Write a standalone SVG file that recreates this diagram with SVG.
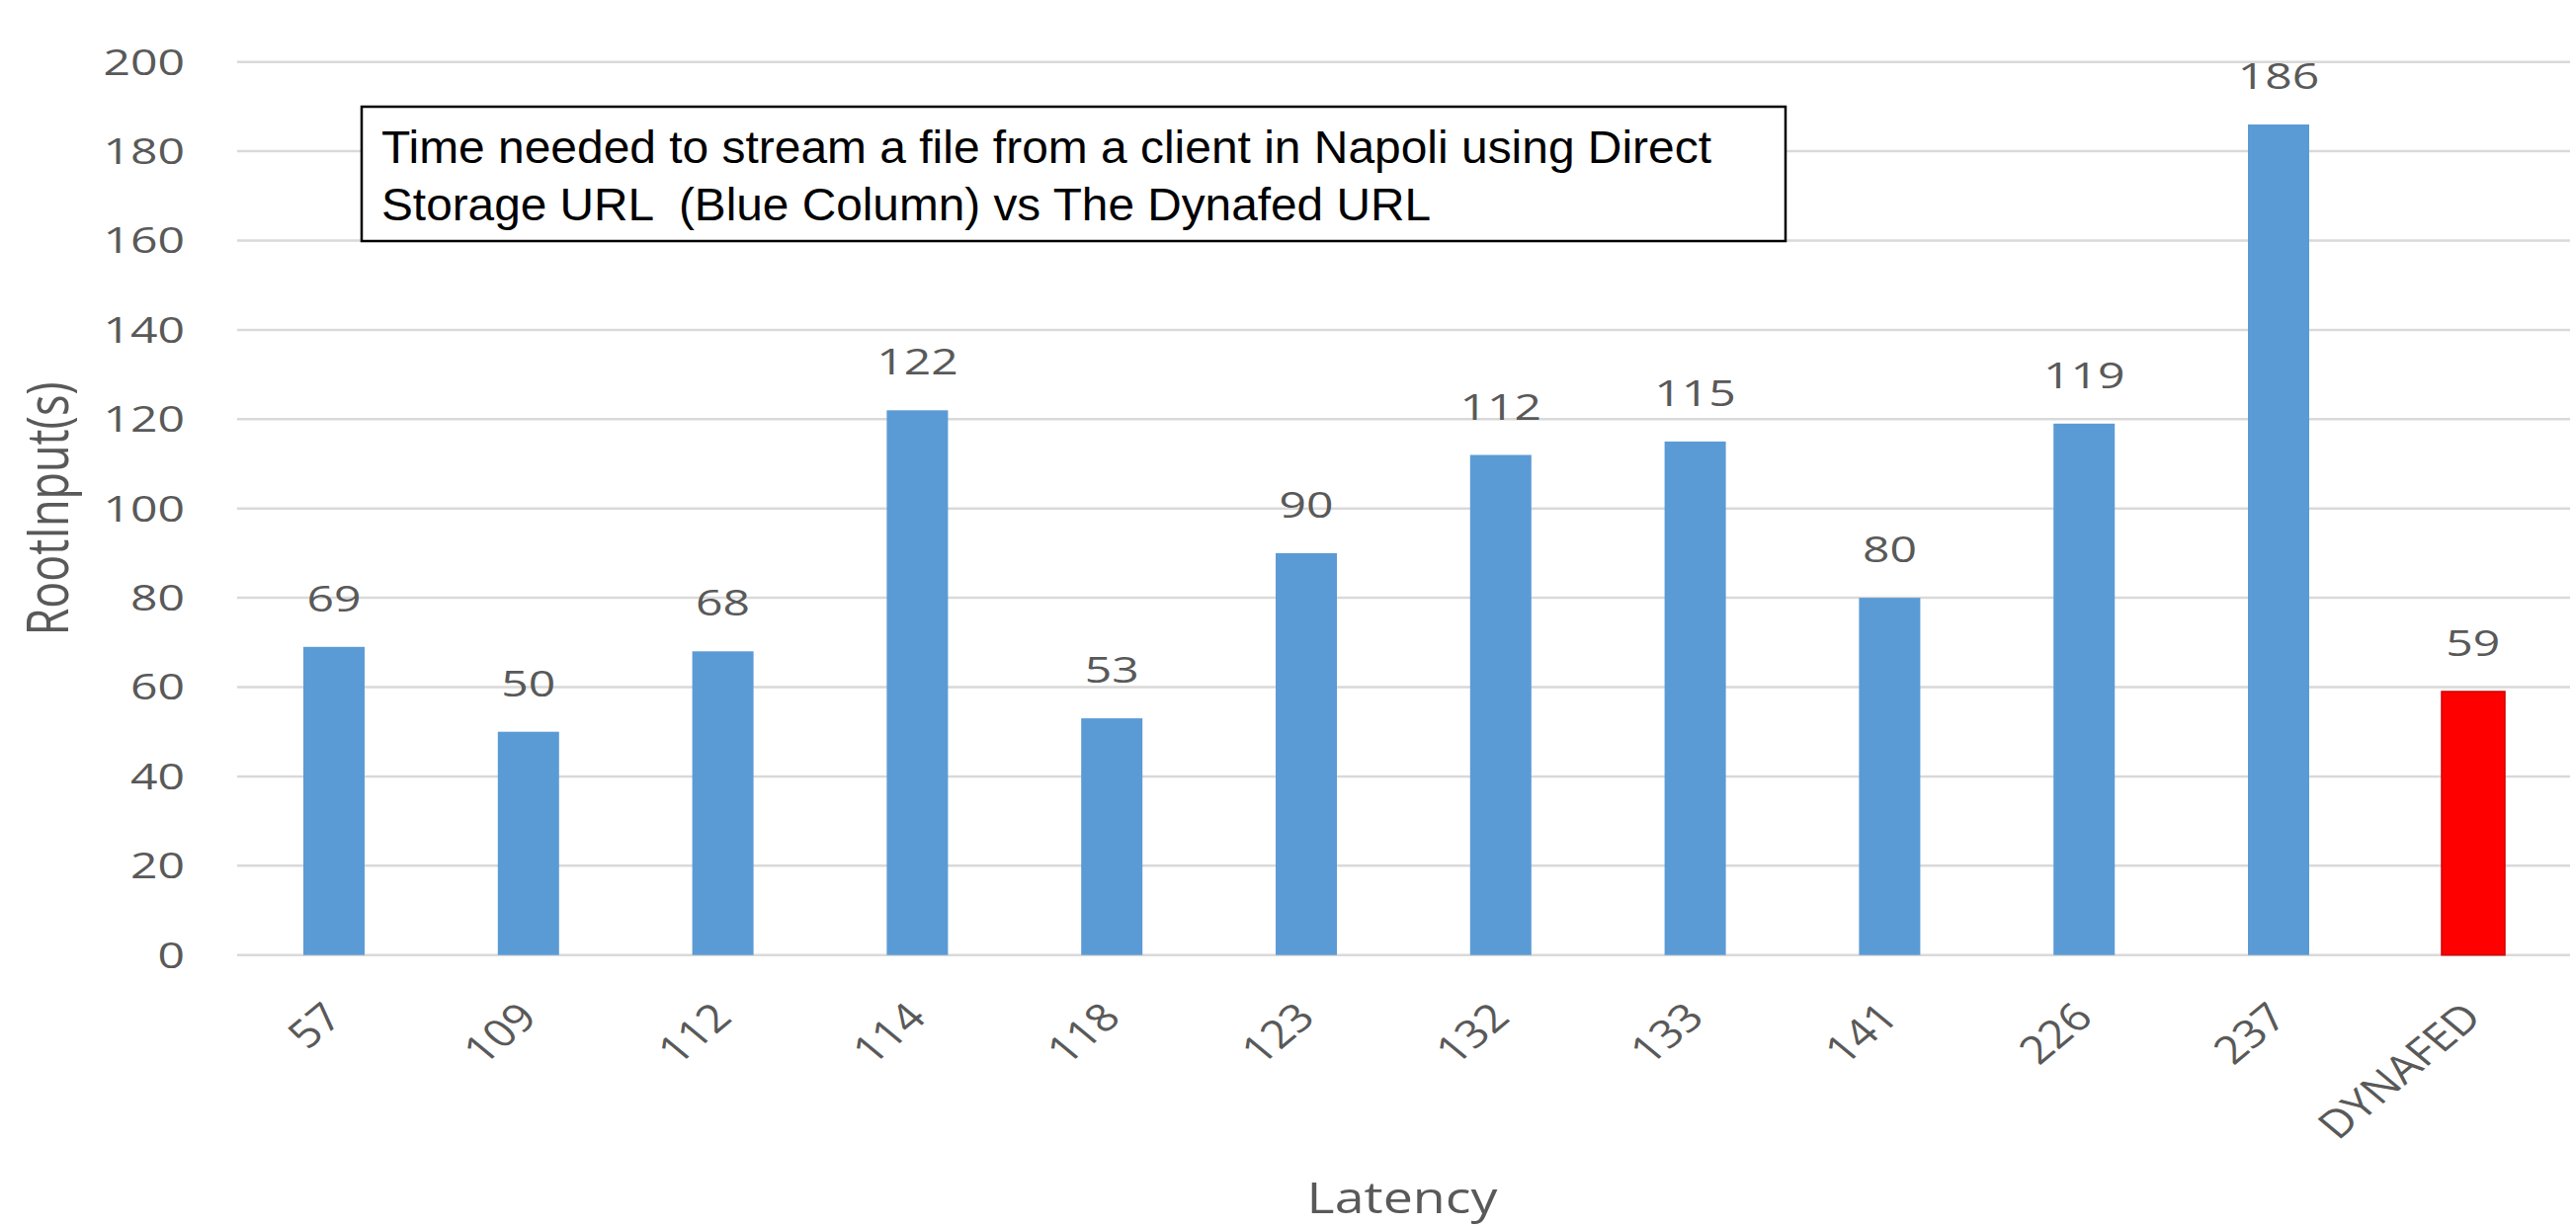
<svg xmlns="http://www.w3.org/2000/svg" width="2607" height="1242" viewBox="0 0 2607 1242">
<style>
.grid{stroke:#d9d9d9;stroke-width:2.5;fill:none}
.t{font-family:"Open Sans","Noto Sans","Liberation Sans",sans-serif;font-size:37px;fill:#595959}
.xl{font-size:39px}
.bar{fill:#5b9bd5}
.red{fill:#ff0000;stroke:#d00000;stroke-width:1.5}
.box{fill:#ffffff;stroke:#000000;stroke-width:2.5}
.note{font-family:"Liberation Sans",Arial,sans-serif;font-size:47px;fill:#000000}
</style>
<rect width="2607" height="1242" fill="#ffffff"/>
<g id="gridlines">
<line class="grid" x1="240" y1="966.7" x2="2601" y2="966.7"/>
<line class="grid" x1="240" y1="876.3" x2="2601" y2="876.3"/>
<line class="grid" x1="240" y1="785.9" x2="2601" y2="785.9"/>
<line class="grid" x1="240" y1="695.5" x2="2601" y2="695.5"/>
<line class="grid" x1="240" y1="605.1" x2="2601" y2="605.1"/>
<line class="grid" x1="240" y1="514.7" x2="2601" y2="514.7"/>
<line class="grid" x1="240" y1="424.3" x2="2601" y2="424.3"/>
<line class="grid" x1="240" y1="333.9" x2="2601" y2="333.9"/>
<line class="grid" x1="240" y1="243.5" x2="2601" y2="243.5"/>
<line class="grid" x1="240" y1="153.1" x2="2601" y2="153.1"/>
<line class="grid" x1="240" y1="62.7" x2="2601" y2="62.7"/>
</g>
<g id="y-ticks" class="t" text-anchor="end">
<text transform="translate(187,980) scale(1.3,1)">0</text>
<text transform="translate(187,889) scale(1.3,1)">20</text>
<text transform="translate(187,799) scale(1.3,1)">40</text>
<text transform="translate(187,708) scale(1.3,1)">60</text>
<text transform="translate(187,618) scale(1.3,1)">80</text>
<text transform="translate(187,528) scale(1.3,1)">100</text>
<text transform="translate(187,437) scale(1.3,1)">120</text>
<text transform="translate(187,347) scale(1.3,1)">140</text>
<text transform="translate(187,256) scale(1.3,1)">160</text>
<text transform="translate(187,166) scale(1.3,1)">180</text>
<text transform="translate(187,76) scale(1.3,1)">200</text>
</g>
<g id="y-title"><text class="t" style="font-size:45px" text-anchor="middle" transform="translate(69,515) scale(1.28,1) rotate(-90)">RootInput(s)</text></g>
<g id="bar-57"><rect class="bar" x="307" y="654.8" width="62" height="311.9"/><text class="t" text-anchor="middle" transform="translate(338,618.8) scale(1.3,1)">69</text></g>
<g id="bar-109"><rect class="bar" x="503.8" y="740.7" width="62" height="226"/><text class="t" text-anchor="middle" transform="translate(534.8,704.7) scale(1.3,1)">50</text></g>
<g id="bar-112"><rect class="bar" x="700.6" y="659.3" width="62" height="307.4"/><text class="t" text-anchor="middle" transform="translate(731.6,623.3) scale(1.3,1)">68</text></g>
<g id="bar-114"><rect class="bar" x="897.4" y="415.3" width="62" height="551.4"/><text class="t" text-anchor="middle" transform="translate(928.4,379.3) scale(1.3,1)">122</text></g>
<g id="bar-118"><rect class="bar" x="1094.2" y="727.1" width="62" height="239.6"/><text class="t" text-anchor="middle" transform="translate(1125.2,691.1) scale(1.3,1)">53</text></g>
<g id="bar-123"><rect class="bar" x="1291" y="559.9" width="62" height="406.8"/><text class="t" text-anchor="middle" transform="translate(1322,523.9) scale(1.3,1)">90</text></g>
<g id="bar-132"><rect class="bar" x="1487.8" y="460.5" width="62" height="506.2"/><text class="t" text-anchor="middle" transform="translate(1518.8,424.5) scale(1.3,1)">112</text></g>
<g id="bar-133"><rect class="bar" x="1684.6" y="446.9" width="62" height="519.8"/><text class="t" text-anchor="middle" transform="translate(1715.6,410.9) scale(1.3,1)">115</text></g>
<g id="bar-141"><rect class="bar" x="1881.4" y="605.1" width="62" height="361.6"/><text class="t" text-anchor="middle" transform="translate(1912.4,569.1) scale(1.3,1)">80</text></g>
<g id="bar-226"><rect class="bar" x="2078.2" y="428.8" width="62" height="537.9"/><text class="t" text-anchor="middle" transform="translate(2109.2,392.8) scale(1.3,1)">119</text></g>
<g id="bar-237"><rect class="bar" x="2275" y="126" width="62" height="840.7"/><text class="t" text-anchor="middle" transform="translate(2306,90) scale(1.3,1)">186</text></g>
<g id="bar-dynafed"><rect class="red" x="2471" y="700" width="64" height="266.7"/><text class="t" text-anchor="middle" transform="translate(2502.8,664) scale(1.3,1)">59</text></g>
<g id="x-labels" class="t xl" text-anchor="end">
<text transform="translate(349,1032) scale(1.2,1) rotate(-45)">57</text>
<text transform="translate(545.8,1032) scale(1.2,1) rotate(-45)">109</text>
<text transform="translate(742.6,1032) scale(1.2,1) rotate(-45)">112</text>
<text transform="translate(939.4,1032) scale(1.2,1) rotate(-45)">114</text>
<text transform="translate(1136.2,1032) scale(1.2,1) rotate(-45)">118</text>
<text transform="translate(1333,1032) scale(1.2,1) rotate(-45)">123</text>
<text transform="translate(1529.8,1032) scale(1.2,1) rotate(-45)">132</text>
<text transform="translate(1726.6,1032) scale(1.2,1) rotate(-45)">133</text>
<text transform="translate(1923.4,1032) scale(1.2,1) rotate(-45)">141</text>
<text transform="translate(2120.2,1032) scale(1.2,1) rotate(-45)">226</text>
<text transform="translate(2317,1032) scale(1.2,1) rotate(-45)">237</text>
<text transform="translate(2513.8,1032) scale(1.2,1) rotate(-45)">DYNAFED</text>
</g>
<g id="x-title"><text class="t" style="font-size:43px" text-anchor="middle" transform="translate(1419,1228) scale(1.25,1)">Latency</text></g>
<g id="note">
<rect class="box" x="366" y="108" width="1441" height="136"/>
<text class="note" x="386" y="165" textLength="1346" lengthAdjust="spacingAndGlyphs">Time needed to stream a file from a client in Napoli using Direct</text>
<text class="note" x="386" y="223" textLength="1062" lengthAdjust="spacingAndGlyphs" xml:space="preserve">Storage URL  (Blue Column) vs The Dynafed URL</text>
</g>
<g id="connectors"/>
</svg>
